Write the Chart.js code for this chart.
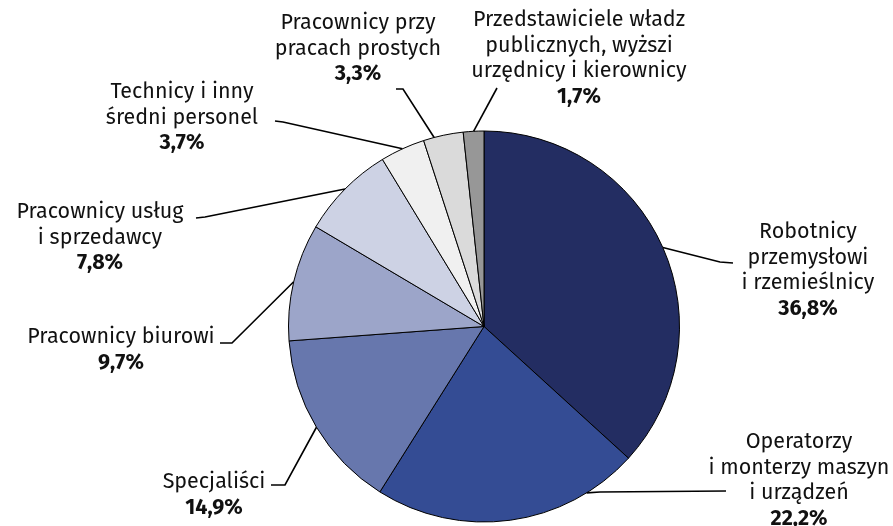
<!DOCTYPE html>
<html>
<head>
<meta charset="utf-8">
<script src="https://cdn.jsdelivr.net/npm/chart.js@4.4.1/dist/chart.umd.min.js"></script>
<style>
  html, body { margin: 0; padding: 0; background: #ffffff; }
  #wrap { width: 893px; height: 526px; }
</style>
</head>
<body>
<div id="wrap"><canvas id="myChart" width="893" height="526"></canvas></div>
<script>
// categories, clockwise from 12 o'clock
const categories = [
    ['Robotnicy', 'przemysłowi', 'i rzemieślnicy'],
    ['Operatorzy', 'i monterzy maszyn', 'i urządzeń'],
    ['Specjaliści'],
    ['Pracownicy biurowi'],
    ['Pracownicy usług', 'i sprzedawcy'],
    ['Technicy i inny', 'średni personel'],
    ['Pracownicy przy', 'pracach prostych'],
    ['Przedstawiciele władz', 'publicznych, wyższi', 'urzędnicy i kierownicy']
];
const shares = [36.8, 22.2, 14.9, 9.7, 7.8, 3.7, 3.3, 1.7];
const sliceColors = ['#232d62', '#344c94', '#6777ad', '#9ca5c9', '#cdd2e4', '#f0f0f0', '#dadada', '#979797'];

// label layout: where the leader leaves the slice (fraction of slice), bend, end and text block
const anchorFrac = [0.5, 0.2, 0.5, 0.5, 0.5, 0.5, 0.27, 0.5];
const leaderBend = [[720, 262], [600, 492], [285, 485], [232, 343], [205, 217], [283, 122], [403, 89], [497, 88]];
const leaderEnd = [[733, 263], [726, 491], [271, 485], [220, 343], [196, 218], [275, 121], [396, 89], [497, 88]];
const textX = [808, 799, 214, 121, 100, 182, 358, 579];
const textTop = [232, 442, 482, 337, 212, 92, 23, 20];
const lineGap = 25.5;

const FONT = '"Fira Sans", "Open Sans", "Noto Sans", sans-serif';

function fmt(v) {
    return v.toFixed(1).replace('.', ',') + '%';
}

const pieLabels = {
    id: 'pieLabels',
    afterDatasetsDraw(chart) {
        const ctx = chart.ctx;
        const arcs = chart.getDatasetMeta(0).data;
        ctx.save();
        arcs.forEach((arc, i) => {
            const p = arc.getProps(['x', 'y', 'startAngle', 'endAngle', 'outerRadius'], true);
            const a = p.startAngle + anchorFrac[i] * (p.endAngle - p.startAngle);
            const sx = p.x + p.outerRadius * Math.cos(a);
            const sy = p.y + p.outerRadius * Math.sin(a);
            ctx.beginPath();
            ctx.moveTo(sx, sy);
            ctx.lineTo(leaderBend[i][0], leaderBend[i][1]);
            ctx.lineTo(leaderEnd[i][0], leaderEnd[i][1]);
            ctx.strokeStyle = '#000000';
            ctx.lineWidth = 1.6;
            ctx.stroke();

            ctx.fillStyle = '#111111';
            ctx.textAlign = 'center';
            ctx.textBaseline = 'middle';
            const lines = categories[i];
            ctx.font = '21.5px ' + FONT;
            lines.forEach((t, k) => {
                ctx.fillText(t, textX[i], textTop[i] + k * lineGap);
            });
            ctx.font = 'bold 21.5px ' + FONT;
            ctx.fillText(fmt(shares[i]), textX[i], textTop[i] + lines.length * lineGap);
        });
        ctx.restore();
    }
};

function createChart() {
    const ctx = document.getElementById('myChart').getContext('2d');
    new Chart(ctx, {
        type: 'pie',
        data: {
            labels: categories.map(c => c.join(' ')),
            datasets: [{
                data: shares,
                backgroundColor: sliceColors,
                borderColor: '#000000',
                borderWidth: 1
            }]
        },
        options: {
            responsive: false,
            animation: false,
            layout: {
                padding: { left: 288, right: 213, top: 130.5, bottom: 3.5 }
            },
            plugins: {
                legend: { display: false },
                tooltip: { enabled: false }
            }
        },
        plugins: [pieLabels]
    });
}

document.addEventListener("DOMContentLoaded", createChart);
</script>
</body>
</html>
